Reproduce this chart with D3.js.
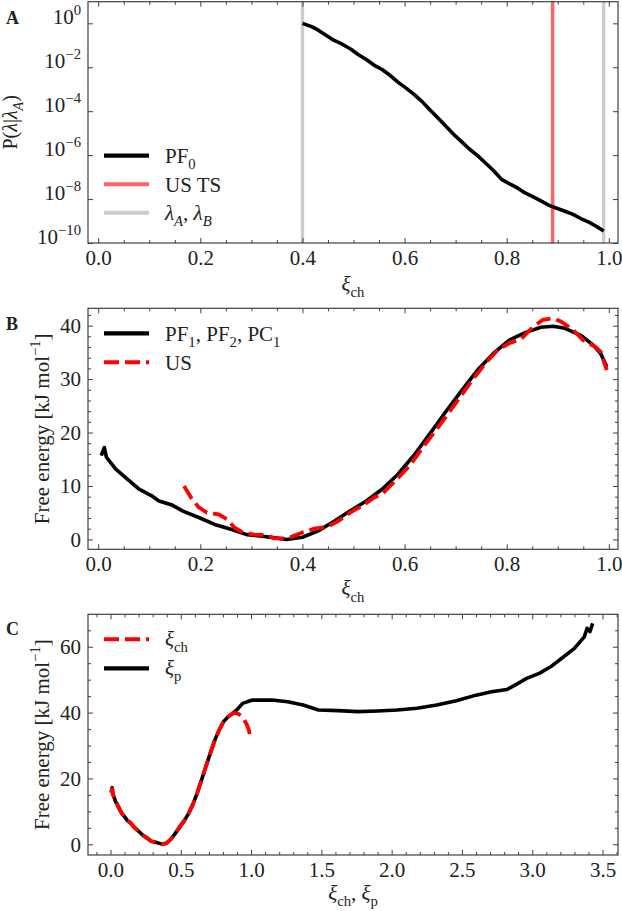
<!DOCTYPE html>
<html lang="en">
<head>
<meta charset="utf-8">
<title>Free energy panels</title>
<script src="https://cdn.jsdelivr.net/npm/d3@7"></script>
<style>
  body { margin: 0; background: #fff; }
  svg { display: block; font-family: "Liberation Serif", "DejaVu Serif", serif; }
  .axis path, .axis line { stroke: #404040; stroke-width: 1; }
  .axis text { font-family: "Liberation Serif", serif; font-size: 21px; fill: #222; }
</style>
</head>
<body>
<script>
// panel A: P(lambda | lambda_A)
var pfXi = [0.400, 0.418, 0.431, 0.447, 0.462, 0.478, 0.495, 0.509, 0.525, 0.540,
            0.556, 0.572, 0.587, 0.603, 0.618, 0.634, 0.649, 0.665, 0.680, 0.696,
            0.712, 0.727, 0.743, 0.758, 0.774, 0.790, 0.805, 0.821, 0.836, 0.852,
            0.867, 0.883, 0.898, 0.914, 0.930, 0.945, 0.961, 0.976, 0.990];
var pfP = [1.0, 0.708, 0.49, 0.282, 0.166, 0.112, 0.066, 0.038, 0.0224, 0.0126,
           0.0079, 0.0042, 0.0021, 0.00112, 6.0e-4, 2.8e-4, 1.2e-4, 5.0e-5, 2.2e-5, 8.9e-6,
           4.0e-6, 1.9e-6, 9.5e-7, 4.5e-7, 2.0e-7, 7.9e-8, 5.0e-8, 3.2e-8, 1.9e-8, 1.26e-8,
           8.3e-9, 5.2e-9, 3.8e-9, 2.8e-9, 2.0e-9, 1.3e-9, 8.9e-10, 5.6e-10, 3.5e-10];
var lambdaAB = [0.40, 0.99];
var usTS = 0.89;
var logTicks = [1e0, 1e-2, 1e-4, 1e-6, 1e-8, 1e-10];
var logTickExp = ["0", "\u22122", "\u22124", "\u22126", "\u22128", "\u221210"];

// panel B: free energy along xi_ch
var pfXiB = [0.006, 0.012, 0.016, 0.034, 0.057, 0.080, 0.104, 0.119, 0.143, 0.166,
             0.197, 0.228, 0.260, 0.291, 0.322, 0.353, 0.369, 0.400, 0.431, 0.462,
             0.493, 0.525, 0.556, 0.587, 0.618, 0.649, 0.680, 0.712, 0.743, 0.774,
             0.805, 0.836, 0.867, 0.891, 0.914, 0.945, 0.969, 0.984, 0.996];
var pfG = [15.7, 17.2, 15.4, 13.2, 11.3, 9.4, 8.2, 7.2, 6.5, 5.3,
           4.1, 2.8, 1.9, 0.9, 0.6, 0.2, 0.0, 0.4, 1.6, 3.4,
           5.3, 7.2, 9.4, 12.2, 15.7, 19.7, 23.8, 27.9, 31.7, 34.8,
           37.3, 38.7, 39.7, 39.9, 39.5, 38.2, 36.4, 34.8, 32.3];
var usXi = [0.168, 0.182, 0.197, 0.213, 0.236, 0.252, 0.267, 0.283, 0.306, 0.330,
            0.345, 0.361, 0.376, 0.400, 0.423, 0.447, 0.470, 0.493, 0.517, 0.540,
            0.556, 0.579, 0.610, 0.641, 0.673, 0.704, 0.735, 0.758, 0.782, 0.805,
            0.829, 0.852, 0.871, 0.891, 0.906, 0.930, 0.953, 0.973, 0.984, 0.996];
var usG = [10.0, 7.8, 6.0, 5.0, 4.7, 3.8, 2.2, 1.3, 0.9, 0.8,
           0.2, 0.2, 0.4, 1.3, 2.0, 2.3, 3.4, 5.0, 6.3, 7.8,
           8.5, 10.7, 13.8, 17.9, 21.9, 26.0, 30.1, 32.9, 35.4, 36.7,
           37.6, 39.8, 41.1, 41.4, 40.8, 39.2, 37.0, 36.1, 35.1, 31.7];

// panel C: free energy along xi_p (xi_ch curve reuses pfXiB / pfG)
var xiP = [0.006, 0.012, 0.016, 0.034, 0.057, 0.080, 0.104, 0.119, 0.143, 0.166,
           0.197, 0.228, 0.260, 0.291, 0.322, 0.353, 0.369, 0.400, 0.431, 0.462,
           0.493, 0.525, 0.556, 0.587, 0.618, 0.649, 0.680, 0.712, 0.743, 0.774,
           0.805, 0.836, 0.867, 0.898, 0.94, 1.01, 1.15, 1.26, 1.37, 1.48,
           1.62, 1.76, 1.90, 2.04, 2.18, 2.32, 2.46, 2.60, 2.71, 2.82,
           2.88, 2.96, 3.05, 3.13, 3.21, 3.30, 3.37, 3.39, 3.41, 3.43];
var xiPG = [15.7, 17.2, 15.4, 13.2, 11.3, 9.4, 8.2, 7.2, 6.5, 5.3,
            4.1, 2.8, 1.9, 0.9, 0.6, 0.2, 0.0, 0.4, 1.6, 3.4,
            5.3, 7.2, 9.4, 12.2, 15.7, 19.7, 23.8, 27.9, 31.7, 34.8,
            37.3, 38.7, 39.7, 40.8, 42.8, 43.8, 43.8, 43.3, 42.3, 40.8,
            40.6, 40.3, 40.5, 40.8, 41.3, 42.3, 43.6, 45.3, 46.3, 47.0,
            48.4, 50.4, 51.9, 53.9, 56.5, 59.5, 63.0, 65.6, 64.6, 67.1];

var W = 622, H = 911;
var left = 88, right = 618;
var FS = 21;

var svg = d3.select("body").append("svg").attr("width", W).attr("height", H);

// text with sub/superscripts
function rich(sel, parts, fs) {
  var off = 0;
  parts.forEach(function(p) {
    var target = p.sub ? fs * 0.3 : (p.sup ? -fs * 0.42 : 0);
    var ts = sel.append("tspan").attr("dy", target - off).text(p.t);
    off = target;
    if (p.sub || p.sup) ts.attr("font-size", fs * 0.7);
    if (p.it) ts.attr("font-style", "italic");
  });
}

function minors(lo, hi, step, majorStep) {
  var out = [];
  for (var v = lo; v <= hi + 1e-9; v += step) {
    var r = v / majorStep;
    if (Math.abs(r - Math.round(r)) > 1e-6) out.push(+v.toFixed(4));
  }
  return out;
}

// frame + ticks on four sides, inward
function frame(g, x, y, top, bottom, opt) {
  var xAx = d3.axisBottom(x).tickValues(opt.xMajor).tickSize(-5).tickPadding(7).tickFormat(opt.xFmt);
  g.append("g").attr("class", "axis").attr("transform", "translate(0," + bottom + ")").call(xAx);
  g.append("g").attr("class", "axis").attr("transform", "translate(0," + bottom + ")")
    .call(d3.axisBottom(x).tickValues(opt.xMinor).tickSize(-3).tickFormat(""));
  g.append("g").attr("class", "axis").attr("transform", "translate(0," + top + ")")
    .call(d3.axisTop(x).tickValues(opt.xMajor).tickSize(-5).tickFormat(""));
  g.append("g").attr("class", "axis").attr("transform", "translate(0," + top + ")")
    .call(d3.axisTop(x).tickValues(opt.xMinor).tickSize(-3).tickFormat(""));

  var yAx = d3.axisLeft(y).tickValues(opt.yMajor).tickSize(-5).tickPadding(7);
  if (opt.yFmt) yAx.tickFormat(opt.yFmt);
  var yl = g.append("g").attr("class", "axis").attr("transform", "translate(" + left + ",0)").call(yAx);
  g.append("g").attr("class", "axis").attr("transform", "translate(" + right + ",0)")
    .call(d3.axisRight(y).tickValues(opt.yMajor).tickSize(-5).tickFormat(""));
  if (opt.yMinor) {
    g.append("g").attr("class", "axis").attr("transform", "translate(" + left + ",0)")
      .call(d3.axisLeft(y).tickValues(opt.yMinor).tickSize(-3).tickFormat(""));
    g.append("g").attr("class", "axis").attr("transform", "translate(" + right + ",0)")
      .call(d3.axisRight(y).tickValues(opt.yMinor).tickSize(-3).tickFormat(""));
  }
  g.selectAll(".axis path.domain").remove();
  g.append("rect").attr("x", left).attr("y", top).attr("width", right - left).attr("height", bottom - top)
    .attr("fill", "none").attr("stroke", "#404040").attr("stroke-width", 1.2);
  return yl;
}

function addText(g, x, y, parts, opts) {
  opts = opts || {};
  var fs = opts.fs || FS;
  var t = g.append("text").attr("x", x).attr("y", y)
    .attr("font-size", fs).attr("fill", "#222")
    .attr("text-anchor", opts.anchor || "start");
  if (opts.rotate) t.attr("transform", "rotate(-90," + x + "," + y + ")");
  if (opts.bold) t.attr("font-weight", "bold");
  rich(t, parts, fs);
  return t;
}

function legendLine(g, y, color, dash, width) {
  var l = g.append("line").attr("x1", 104).attr("x2", 149).attr("y1", y).attr("y2", y)
    .attr("stroke", color).attr("stroke-width", width || 4);
  if (dash) l.attr("stroke-dasharray", dash);
}

var fLabel = [{t: "Free energy [kJ mol"}, {t: "\u22121", sup: true}, {t: "]"}];
var xiCh = [{t: "\u03be", it: true}, {t: "ch", sub: true}];

// ---------- Panel A ----------
(function() {
  var top = 1.7, bottom = 243;
  var g = svg.append("g");
  var x = d3.scaleLinear().domain([-0.02, 1.018]).range([left, right]);
  var y = d3.scaleLog().domain([1e-10, Math.pow(10, 0.985)]).range([bottom, top]);

  // vertical reference lines
  g.selectAll("line.lab").data(lambdaAB).enter().append("line")
    .attr("x1", d => x(d)).attr("x2", d => x(d)).attr("y1", top).attr("y2", bottom)
    .attr("stroke", "#cccccc").attr("stroke-width", 3.3);
  g.append("line").attr("x1", x(usTS)).attr("x2", x(usTS)).attr("y1", top).attr("y2", bottom)
    .attr("stroke", "#ff6464").attr("stroke-width", 3.5);

  var line = d3.line().x((d, i) => x(pfXi[i])).y(d => y(d));
  g.append("path").datum(pfP).attr("d", line).attr("fill", "none")
    .attr("stroke", "#000").attr("stroke-width", 3.6).attr("stroke-linejoin", "round");

  var yl = frame(g, x, y, top, bottom, {
    xMajor: [0, 0.2, 0.4, 0.6, 0.8, 1.0], xMinor: minors(0, 1.0, 0.05, 0.2),
    xFmt: d3.format(".1f"), yMajor: logTicks, yFmt: function() { return ""; }
  });
  yl.selectAll(".tick").each(function(d, i) {
    var t = d3.select(this).select("text").text(null);
    rich(t, [{t: "10"}, {t: logTickExp[i], sup: true}], FS);
  });

  legendLine(g, 155.7, "#000", null, 4.2);
  legendLine(g, 184.3, "#ff6464", null, 4);
  legendLine(g, 212.7, "#cccccc", null, 4);
  addText(g, 165, 163, [{t: "PF"}, {t: "0", sub: true}]);
  addText(g, 165, 192, [{t: "US TS"}]);
  addText(g, 165, 220, [{t: "\u03bb", it: true}, {t: "A", sub: true, it: true}, {t: ", "},
                        {t: "\u03bb", it: true}, {t: "B", sub: true, it: true}]);

  addText(g, (left + right) / 2, bottom + 48, xiCh, {anchor: "middle"});
  addText(g, 17, (top + bottom) / 2, [{t: "P("}, {t: "\u03bb", it: true}, {t: "|"},
          {t: "\u03bb", it: true}, {t: "A", sub: true, it: true}, {t: ")"}],
          {anchor: "middle", rotate: true, fs: 20});
  addText(g, 6, 24, [{t: "A"}], {bold: true, fs: 18});
})();

// ---------- Panel B ----------
(function() {
  var top = 308.3, bottom = 549.3;
  var g = svg.append("g");
  var x = d3.scaleLinear().domain([-0.02, 1.018]).range([left, right]);
  var y = d3.scaleLinear().domain([-1.85, 43.25]).range([bottom, top]);

  g.append("path").datum(pfG)
    .attr("d", d3.line().x((d, i) => x(pfXiB[i])).y(d => y(d)))
    .attr("fill", "none").attr("stroke", "#000").attr("stroke-width", 3.6).attr("stroke-linejoin", "round");
  g.append("path").datum(usG)
    .attr("d", d3.line().x((d, i) => x(usXi[i])).y(d => y(d)))
    .attr("fill", "none").attr("stroke", "#ff0000").attr("stroke-width", 3.8)
    .attr("stroke-dasharray", "15,6");

  frame(g, x, y, top, bottom, {
    xMajor: [0, 0.2, 0.4, 0.6, 0.8, 1.0], xMinor: minors(0, 1.0, 0.05, 0.2),
    xFmt: d3.format(".1f"), yMajor: [0, 10, 20, 30, 40], yMinor: minors(0, 42, 2, 10),
    yFmt: d3.format("d")
  });

  legendLine(g, 333.3, "#000", null, 4.2);
  legendLine(g, 362.3, "#ff0000", "15,6", 4);
  addText(g, 165, 341, [{t: "PF"}, {t: "1", sub: true}, {t: ", PF"}, {t: "2", sub: true},
                        {t: ", PC"}, {t: "1", sub: true}]);
  addText(g, 165, 370, [{t: "US"}]);

  addText(g, (left + right) / 2, bottom + 46, xiCh, {anchor: "middle"});
  addText(g, 49, (top + bottom) / 2, fLabel, {anchor: "middle", rotate: true});
  addText(g, 6, 330, [{t: "B"}], {bold: true, fs: 18});
})();

// ---------- Panel C ----------
(function() {
  var top = 614.3, bottom = 855;
  var g = svg.append("g");
  var x = d3.scaleLinear().domain([-0.16, 3.61]).range([left, right]);
  var y = d3.scaleLinear().domain([-3.25, 69.85]).range([bottom, top]);

  g.append("path").datum(xiPG)
    .attr("d", d3.line().x((d, i) => x(xiP[i])).y(d => y(d)))
    .attr("fill", "none").attr("stroke", "#000").attr("stroke-width", 3.6).attr("stroke-linejoin", "round");
  g.append("path").datum(pfG)
    .attr("d", d3.line().x((d, i) => x(pfXiB[i])).y(d => y(d)))
    .attr("fill", "none").attr("stroke", "#ff0000").attr("stroke-width", 3.8)
    .attr("stroke-dasharray", "15,6");

  frame(g, x, y, top, bottom, {
    xMajor: [0, 0.5, 1.0, 1.5, 2.0, 2.5, 3.0, 3.5], xMinor: minors(-0.1, 3.6, 0.1, 0.5),
    xFmt: d3.format(".1f"), yMajor: [0, 20, 40, 60], yMinor: minors(0, 65, 5, 20),
    yFmt: d3.format("d")
  });

  legendLine(g, 639.3, "#ff0000", "15,6", 4);
  legendLine(g, 668.3, "#000", null, 4.2);
  addText(g, 165, 646, xiCh);
  addText(g, 165, 675, [{t: "\u03be", it: true}, {t: "p", sub: true}]);

  addText(g, (left + right) / 2, bottom + 45, [{t: "\u03be", it: true}, {t: "ch", sub: true},
          {t: ", "}, {t: "\u03be", it: true}, {t: "p", sub: true}], {anchor: "middle"});
  addText(g, 49, (top + bottom) / 2, fLabel, {anchor: "middle", rotate: true});
  addText(g, 6, 635, [{t: "C"}], {bold: true, fs: 18});
})();
</script>
</body>
</html>
